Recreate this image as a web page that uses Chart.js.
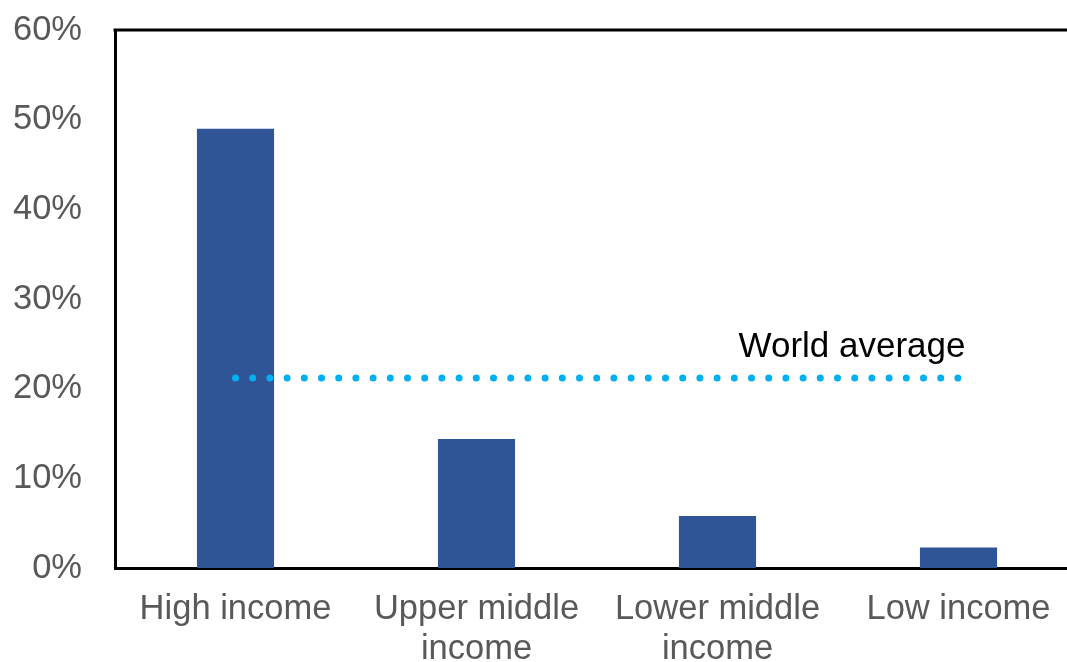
<!DOCTYPE html>
<html>
<head>
<meta charset="utf-8">
<script src="https://cdn.jsdelivr.net/npm/chart.js@4.4.1/dist/chart.umd.min.js"></script>
<style>
  html, body { margin: 0; padding: 0; background: #fff; overflow: hidden; }
  #wrap { width: 1082px; height: 662px; position: relative; }
</style>
</head>
<body>
<div id="wrap"><canvas id="myChart"></canvas></div>
<script>
// values
var categories = ['High income', ['Upper middle', 'income'], ['Lower middle', 'income'], 'Low income'];
var shareValues = [49.0, 14.4, 5.8, 2.3];
var worldAverage = [21.2, 21.2, 21.2, 21.2];
var worldLabel = 'World average';
var yTicks = [0, 10, 20, 30, 40, 50, 60];

var fontFamily = "'Liberation Sans', Arial, sans-serif";

// top frame line + "World average" text above the end of the dotted line
var extras = {
    id: 'extras',
    afterDatasetsDraw: function (chart) {
        var ctx = chart.ctx;
        var area = chart.chartArea;
        ctx.save();
        ctx.strokeStyle = '#000000';
        ctx.lineWidth = 3;
        ctx.beginPath();
        ctx.moveTo(area.left - 1.5, area.top);
        ctx.lineTo(chart.width, area.top);
        ctx.stroke();

        var meta = chart.getDatasetMeta(1);
        var last = meta.data[meta.data.length - 1];
        ctx.font = '35px ' + fontFamily;
        ctx.fillStyle = '#000000';
        ctx.textAlign = 'right';
        ctx.textBaseline = 'alphabetic';
        ctx.fillText(worldLabel, last.x + 7, last.y - 21);
        ctx.restore();
    }
};

new Chart(document.getElementById('myChart'), {
    type: 'bar',
    data: {
        labels: categories,
        datasets: [
            {
                label: 'Share',
                data: shareValues,
                backgroundColor: '#2F5597',
                barPercentage: 0.32,
                categoryPercentage: 1,
                order: 1
            },
            {
                type: 'line',
                label: worldLabel,
                data: worldAverage,
                borderColor: '#00B0F0',
                borderWidth: 7,
                borderDash: [0, 17.2],
                borderCapStyle: 'round',
                pointRadius: 0,
                fill: false,
                order: 0
            }
        ]
    },
    options: {
        responsive: true,
        maintainAspectRatio: false,
        animation: false,
        layout: {padding: {top: 30, right: 3, bottom: 0, left: 0}},
        plugins: {
            legend: {display: false},
            tooltip: {enabled: false}
        },
        scales: {
            x: {
                position: 'bottom',
                grid: {display: false, drawTicks: false},
                border: {display: true, color: '#000000', width: 3},
                ticks: {
                    color: '#595959',
                    font: {size: 34.5, family: fontFamily, lineHeight: '40px'},
                    padding: 21,
                    maxRotation: 0,
                    autoSkip: false
                },
                afterFit: function (scale) { scale.height = 94; }
            },
            y: {
                min: 0,
                max: 60,
                grid: {display: false, drawTicks: false},
                border: {display: true, color: '#000000', width: 3},
                afterBuildTicks: function (scale) {
                    scale.ticks = yTicks.map(function (v) { return {value: v}; });
                },
                ticks: {
                    color: '#595959',
                    font: {size: 34.5, family: fontFamily},
                    padding: 33,
                    callback: function (v) { return v + '%'; }
                },
                afterFit: function (scale) {
                    scale.width = 115;
                    scale.paddingTop = 0;
                    scale.paddingBottom = 0;
                }
            }
        }
    },
    plugins: [extras]
});
</script>
</body>
</html>
